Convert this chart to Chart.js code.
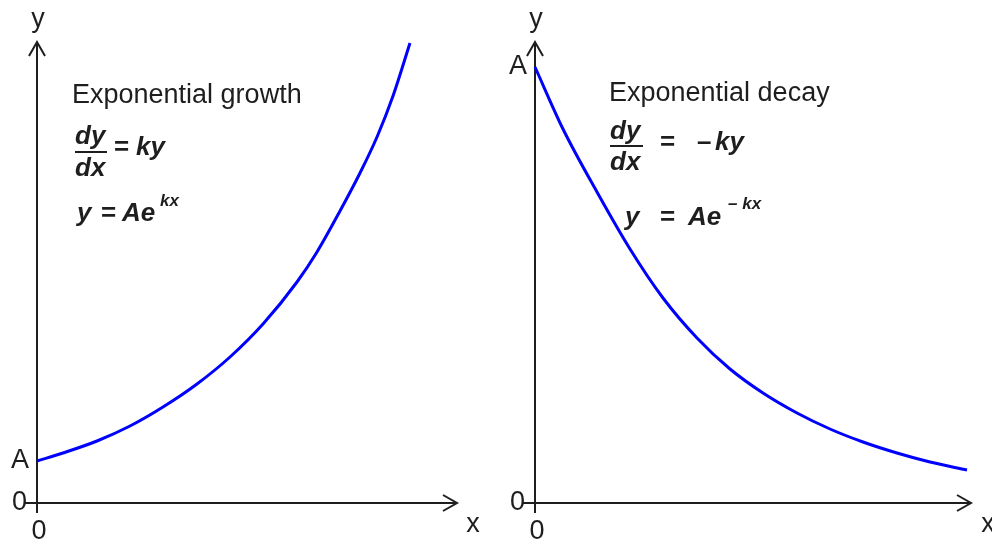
<!DOCTYPE html>
<html>
<head>
<meta charset="utf-8">
<script src="https://cdn.jsdelivr.net/npm/chart.js@4.4.1/dist/chart.umd.min.js"></script>
<style>
  html, body { margin: 0; padding: 0; background: #fff; }
  #wrap { position: relative; width: 992px; height: 541px; overflow: hidden; }
  canvas { position: absolute; top: 0; }
  #growth { left: 0; }
  #decay { left: 496px; }
</style>
</head>
<body>
<div id="wrap">
  <canvas id="growth" width="496" height="541"></canvas>
  <canvas id="decay" width="496" height="541"></canvas>
</div>
<script>
// values, origin at the corner of each pair of axes
const growthX = [0, 26, 60, 93, 126, 160, 193, 226, 260, 280, 303, 323, 340, 356, 373];
const growthY = [42, 50, 62, 77, 96, 119, 146, 179, 221, 251, 292, 330, 366, 407, 460];
const decayX = [0, 28, 62, 95, 128, 162, 195, 228, 262, 295, 328, 362, 395, 432];
const decayY = [436, 374, 311, 254, 205, 165, 134, 110, 90, 74, 61, 50, 41, 33];

// axis extents (where the arrow heads sit)
const growthMaxX = 420, decayMaxX = 436, axisMaxY = 461;

const REG = '"Liberation Sans", Arial, sans-serif';
const label = px => px + 'px ' + REG;
const math = px => 'italic bold ' + px + 'px ' + REG;

// axis lines, arrows, the 0 / A marks and the formulas
const sketchPlugin = {
  id: 'sketch',
  beforeDatasetsDraw(chart, args, opts) {
    const ctx = chart.ctx;
    const xs = chart.scales.x, ys = chart.scales.y;
    const x0 = xs.getPixelForValue(0), y0 = ys.getPixelForValue(0);
    const xe = xs.getPixelForValue(xs.max), ye = ys.getPixelForValue(ys.max);
    ctx.save();
    ctx.strokeStyle = '#1e1e1e';
    ctx.lineWidth = 2;
    ctx.beginPath();
    ctx.moveTo(x0 - 12, y0); ctx.lineTo(xe, y0);
    ctx.moveTo(x0, y0 + 10); ctx.lineTo(x0, ye);
    ctx.moveTo(xe - 14, y0 - 8); ctx.lineTo(xe, y0); ctx.lineTo(xe - 14, y0 + 8);
    ctx.moveTo(x0 - 8, ye + 14); ctx.lineTo(x0, ye); ctx.lineTo(x0 + 8, ye + 14);
    ctx.stroke();

    ctx.fillStyle = '#1e1e1e';
    ctx.font = label(27);
    ctx.textAlign = 'right';
    ctx.textBaseline = 'middle';
    ctx.fillText('0', x0 - 10, y0);
    ctx.fillText('A', x0 - 8, ys.getPixelForValue(opts.aValue));
    ctx.textAlign = 'center';
    ctx.textBaseline = 'top';
    ctx.fillText('0', x0 + 2, y0 + 15);
    ctx.textBaseline = 'alphabetic';
    ctx.fillText('y', opts.yLabel[0], opts.yLabel[1]);
    ctx.fillText('x', opts.xLabel[0], opts.xLabel[1]);

    ctx.textAlign = 'left';
    opts.texts.forEach(t => {
      ctx.font = t.font;
      ctx.fillText(t.s, t.x, t.y);
    });
    opts.bars.forEach(b => {
      ctx.fillRect(b[0], b[1], b[2] - b[0], 2);
    });
    ctx.restore();
  }
};

function makeChart(id, xs, ys, maxX, pad, opts) {
  return new Chart(document.getElementById(id), {
    type: 'line',
    data: {
      datasets: [{
        data: xs.map((x, i) => ({ x: x, y: ys[i] })),
        borderColor: '#0000ff',
        borderWidth: 3,
        pointRadius: 0,
        cubicInterpolationMode: 'monotone',
        clip: false
      }]
    },
    options: {
      responsive: false,
      animation: false,
      devicePixelRatio: 1,
      layout: { padding: pad },
      scales: {
        x: { type: 'linear', min: 0, max: maxX, display: false },
        y: { type: 'linear', min: 0, max: axisMaxY, display: false }
      },
      plugins: { legend: { display: false }, tooltip: { enabled: false }, sketch: opts }
    },
    plugins: [sketchPlugin]
  });
}

makeChart('growth', growthX, growthY, growthMaxX,
  { left: 37, top: 42, right: 39, bottom: 38 },
  {
    aValue: growthY[0],
    yLabel: [38, 27],
    xLabel: [473, 532],
    texts: [
      { s: 'Exponential growth', x: 72, y: 103, font: label(27) },
      { s: 'dy', x: 75, y: 144, font: math(26) },
      { s: 'dx', x: 75, y: 176, font: math(26) },
      { s: '=', x: 114, y: 155, font: 'bold 26px ' + REG },
      { s: 'ky', x: 136, y: 155, font: math(26) },
      { s: 'y', x: 77, y: 221, font: math(26) },
      { s: '=', x: 101, y: 221, font: 'bold 26px ' + REG },
      { s: 'Ae', x: 122, y: 221, font: math(26) },
      { s: 'kx', x: 160, y: 206, font: math(17) }
    ],
    bars: [[75, 151, 107]]
  });

makeChart('decay', decayX, decayY, decayMaxX,
  { left: 39, top: 42, right: 21, bottom: 38 },
  {
    aValue: decayY[0],
    yLabel: [40, 27],
    xLabel: [492, 532],
    texts: [
      { s: 'Exponential decay', x: 113, y: 101, font: label(27) },
      { s: 'dy', x: 114, y: 139, font: math(26) },
      { s: 'dx', x: 114, y: 170, font: math(26) },
      { s: '=', x: 164, y: 150, font: 'bold 26px ' + REG },
      { s: '\u2013', x: 201, y: 150, font: 'bold 26px ' + REG },
      { s: 'ky', x: 219, y: 150, font: math(26) },
      { s: 'y', x: 129, y: 225, font: math(26) },
      { s: '=', x: 164, y: 225, font: 'bold 26px ' + REG },
      { s: 'Ae', x: 192, y: 225, font: math(26) },
      { s: '\u2013 kx', x: 232, y: 209, font: math(17) }
    ],
    bars: [[114, 145, 147]]
  });
</script>
</body>
</html>
